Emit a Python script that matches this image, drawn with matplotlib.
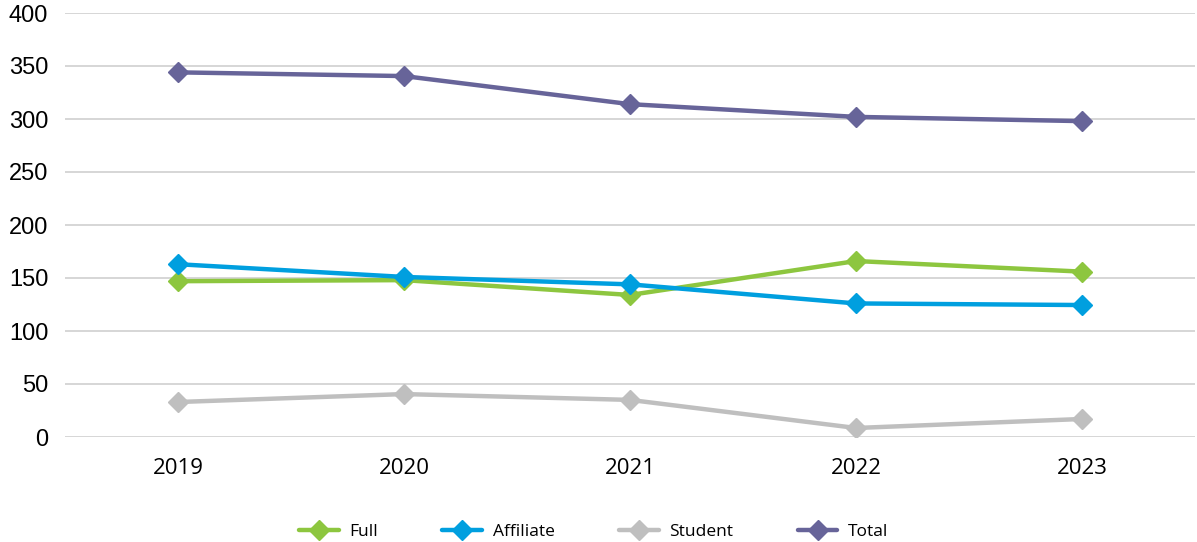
import matplotlib
matplotlib.use("Agg")
import matplotlib.pyplot as plt

years = ["2019", "2020", "2021", "2022", "2023"]
full = [147, 148, 134, 166, 156]
affiliate = [163, 151, 144, 126, 124.5]
student = [33, 40.5, 35, 8.5, 17]
total = [344, 340.5, 314, 302, 298]

series = [("Full", full, "#8DC63F"), ("Affiliate", affiliate, "#009FDF"),
          ("Student", student, "#BFBFBF"), ("Total", total, "#676499")]

fig = plt.figure(figsize=(11.97, 5.42), dpi=100)
ax = fig.add_axes([65/1197, (542-437)/542, (1195-65)/1197, (437-13)/542])

x = list(range(len(years)))
for name, vals, col in series:
    ax.plot(x, vals, color=col, lw=3.2, marker="D", markersize=10, label=name, solid_capstyle="round")

ax.set_xlim(-0.5, len(years) - 0.5)
ax.set_ylim(0, 400)
ax.set_yticks(range(0, 401, 50))
ax.set_xticks(x)
ax.set_xticklabels(years, fontfamily="Open Sans", fontsize=16)
for lab in ax.get_yticklabels():
    lab.set_fontfamily("Liberation Sans")
    lab.set_fontsize(17)
ax.grid(axis="y", color="#D0D0D0", lw=1.2)
ax.set_axisbelow(True)
for s in ax.spines.values():
    s.set_visible(False)
ax.tick_params(length=0)
ax.tick_params(axis="x", pad=15)
ax.tick_params(axis="y", pad=12)

leg = fig.legend(loc="center", bbox_to_anchor=(0.496, 10/542), ncol=4, frameon=False,
                 prop={"family": "Open Sans", "size": 12.5}, handlelength=2.3, columnspacing=3.7,
                 handletextpad=0.6)
fig.savefig("out.png", dpi=100)
